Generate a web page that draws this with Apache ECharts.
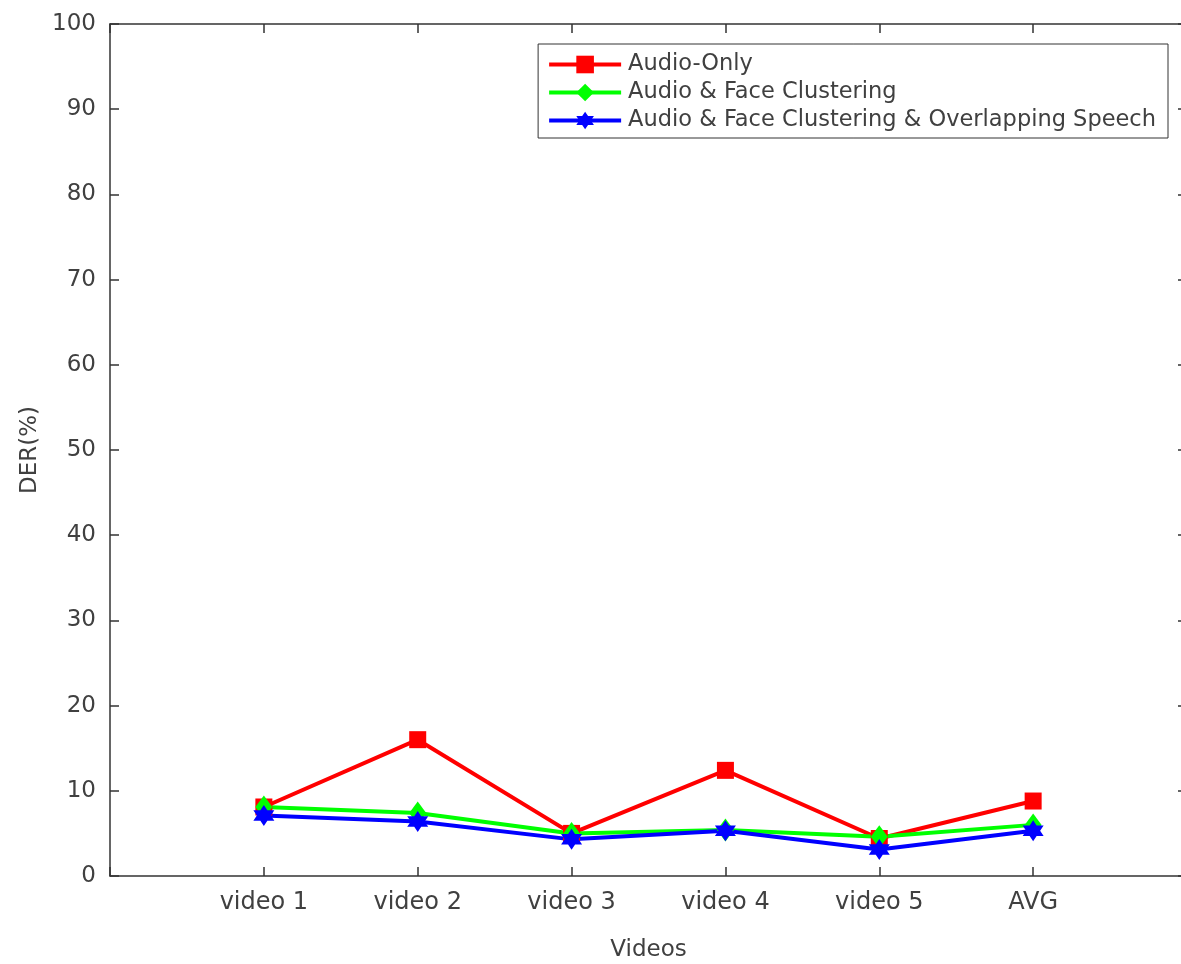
<!DOCTYPE html>
<html>
<head>
<meta charset="utf-8">
<script src="https://cdn.jsdelivr.net/npm/echarts@6/dist/echarts.min.js"></script>
<style>
  html, body { margin: 0; padding: 0; background: #fff; }
  #chart { width: 1181px; height: 964px; }
</style>
</head>
<body>
<div id="chart"></div>
<script>
// categories and DER values (%)
const categories = ['video 1', 'video 2', 'video 3', 'video 4', 'video 5', 'AVG']
const audioOnly = [8.1, 16.0, 5.0, 12.4, 4.4, 8.8]
const audioFace = [8.1, 7.4, 5.0, 5.4, 4.6, 6.0]
const audioFaceOverlap = [7.1, 6.4, 4.3, 5.3, 3.1, 5.3]
const yTicks = [0, 10, 20, 30, 40, 50, 60, 70, 80, 90, 100]

const hexagram = 'path://M0,-10 L2.887,-5 L8.66,-5 L5.774,0 L8.66,5 L2.887,5 L0,10 L-2.887,5 L-8.66,5 L-5.774,0 L-8.66,-5 L-2.887,-5 Z'

const axisColor = '#333333'
const textColor = '#404040'
const fontFamily = 'DejaVu Sans'

// category i sits at x = i + 1 on a 0..7 scale
const toPoints = values => values.map((v, i) => [i + 1, v])

const chart = echarts.init(document.getElementById('chart'))

function lineSeries(name, values, color, symbol, size) {
  return {
    name,
    type: 'line',
    data: toPoints(values),
    symbol,
    symbolSize: size,
    showAllSymbol: true,
    lineStyle: { color, width: 4 },
    itemStyle: { color, borderWidth: 0 },
    emphasis: { disabled: true },
    animation: false
  }
}

const boxLine = { show: true, onZero: false, lineStyle: { color: axisColor, width: 1.5 } }
const boxTick = { show: true, inside: true, length: 9, lineStyle: { color: axisColor, width: 1.5 } }

const option = {
  backgroundColor: '#ffffff',
  textStyle: { fontFamily },
  grid: { left: 110, right: -6, top: 24, bottom: 88, containLabel: false, outerBoundsMode: 'none' },
  legend: {
    top: 44,
    right: 13,
    orient: 'vertical',
    align: 'left',
    itemWidth: 72,
    itemHeight: 22,
    itemGap: 5,
    padding: [9, 12, 6, 9],
    borderColor: axisColor,
    borderWidth: 1,
    backgroundColor: '#ffffff',
    lineStyle: { width: 4 },
    textStyle: { color: textColor, fontSize: 22.5, fontFamily, lineHeight: 23, padding: [0, 0, 0, 2] },
    data: ['Audio-Only', 'Audio & Face Clustering', 'Audio & Face Clustering & Overlapping Speech']
  },
  xAxis: [
    {
      type: 'value',
      min: 0,
      max: 7,
      interval: 1,
      name: 'Videos',
      nameLocation: 'middle',
      nameGap: 63,
      nameTextStyle: { color: textColor, fontSize: 23, fontFamily },
      axisLine: boxLine,
      axisTick: boxTick,
      axisLabel: {
        color: textColor,
        fontSize: 24,
        fontFamily,
        margin: 15,
        formatter: v => categories[v - 1] || ''
      },
      splitLine: { show: false }
    },
    {
      type: 'value',
      position: 'top',
      min: 0,
      max: 7,
      interval: 1,
      axisLine: boxLine,
      axisTick: boxTick,
      axisLabel: { show: false },
      splitLine: { show: false }
    }
  ],
  yAxis: [
    {
      type: 'value',
      min: yTicks[0],
      max: yTicks[yTicks.length - 1],
      interval: 10,
      name: 'DER(%)',
      nameLocation: 'middle',
      nameGap: 66,
      nameTextStyle: { color: textColor, fontSize: 23, fontFamily },
      axisLine: boxLine,
      axisTick: boxTick,
      axisLabel: { color: textColor, fontSize: 23, fontFamily, margin: 14 },
      splitLine: { show: false }
    },
    {
      type: 'value',
      position: 'right',
      min: yTicks[0],
      max: yTicks[yTicks.length - 1],
      interval: 10,
      axisLine: boxLine,
      axisTick: boxTick,
      axisLabel: { show: false },
      splitLine: { show: false }
    }
  ],
  series: [
    lineSeries('Audio-Only', audioOnly, '#ff0000', 'rect', 17),
    lineSeries('Audio & Face Clustering', audioFace, '#00ff00', 'diamond', [17, 23]),
    lineSeries('Audio & Face Clustering & Overlapping Speech', audioFaceOverlap, '#0000ff', hexagram, 21)
  ]
}

chart.setOption(option)
window.addEventListener('resize', () => chart.resize())
</script>
</body>
</html>
